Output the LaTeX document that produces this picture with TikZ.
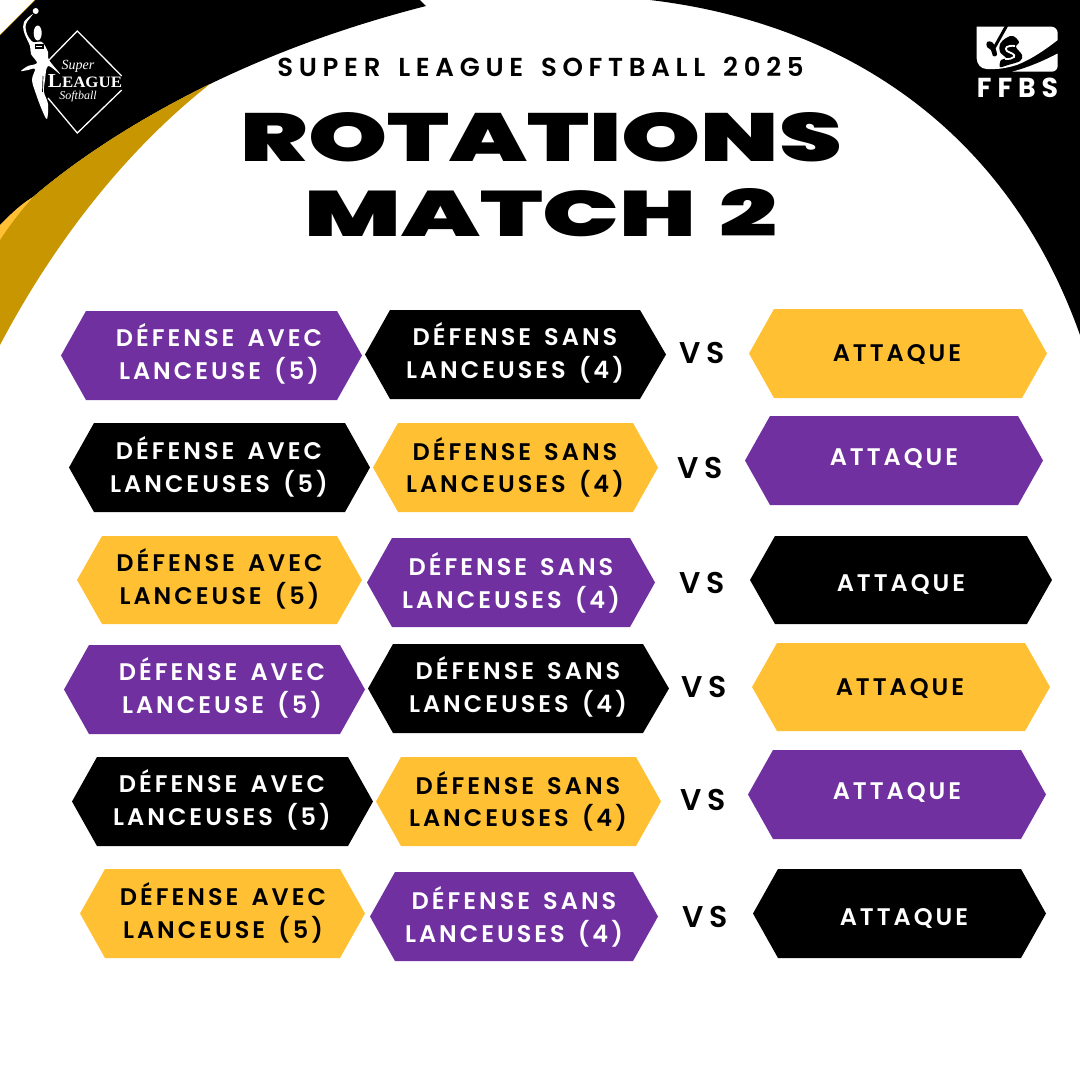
\documentclass[tikz,border=0pt]{standalone}
\usepackage{fontspec}
\usepackage{graphicx}
\setmainfont{Poppins}
\newfontfamily\popsemi[LetterSpace=12.5,WordSpace=1.5]{Poppins SemiBold}
\newfontfamily\popsub[LetterSpace=22,WordSpace=1.5]{Poppins SemiBold}
\newfontfamily\popvs[LetterSpace=21]{Poppins SemiBold}
\newfontfamily\popblack{Poppins Black}
\newfontfamily\logoserif{Liberation Serif}
\newfontfamily\ffbsfont[LetterSpace=22]{Poppins}
\definecolor{lpurple}{HTML}{7030A0}
\definecolor{lyellow}{HTML}{FFC133}
\definecolor{lgold}{HTML}{C89600}
\tikzset{
 lab/.style={inner sep=0pt,align=center,xshift=-1pt,font=\popsemi\fontsize{24}{32.5}\selectfont},
 onelab/.style={lab,yshift=-1.5pt},
 vslab/.style={inner sep=0pt,xshift=-1pt,font=\popvs\fontsize{30}{32}\selectfont,text=black},
 logoline/.style={white,line width=1.3pt},
}
% colour, left shoulder, right shoulder, right tip, top, bottom
\newcommand{\hexa}[6]{\fill[#1] (#2,#5) -- (#3,#5) -- (#4,#5/2+#6/2) -- (#3,#6) -- (#2,#6) -- (#2-25,#5/2+#6/2) -- cycle;}
\begin{document}
\begin{tikzpicture}[x=1pt,y=-1pt]
\useasboundingbox (0,0) rectangle (1080,1080);
\fill[white] (0,0) rectangle (1080,1080);
% corners
\fill[black] (35,0) -- (420,0) -- (426,6) .. controls (340,28) and (270,55) .. (210,84) .. controls (130,123) and (70,165) .. (33,197) .. controls (20,205) and (10,215) .. (0,225) -- (0,35) -- cycle;
\draw[lgold,line width=.4pt] (35,0) -- (0,35);
\fill[lyellow] (33,197) .. controls (20,205) and (10,215) .. (0,225) -- (0,240) -- cycle;
\fill[lgold] (210,84) .. controls (130,123) and (70,165) .. (33,197) .. controls (20,212) and (10,225) .. (0,240) -- (0,345) .. controls (50,250) and (120,155) .. (210,84) -- cycle;
\fill[black] (650,0) .. controls (820,20) and (1000,110) .. (1080,335) -- (1080,0) -- cycle;
% left logo
\draw[logoline] (47,62) -- (77.3,31) -- (121.7,76);
\draw[logoline] (121.7,90) -- (77.3,133) -- (48,98);
\fill[white] (35.7,11) circle (3);
\fill[white] plot[smooth cycle,tension=.55] coordinates {(33,14) (24,22) (24,32) (30,46) (31,54) (37,63) (28,66) (21,71) (28,70) (35,69) (32,80) (36,94) (42,110) (47,119) (48,104) (44,92) (45,80) (48,66) (60,74) (49,60) (48,52) (42,42) (33,42) (27,34) (26,24)};
\fill[white] (37.7,33) ellipse (4 and 7.5);
\fill[black] (34.5,44) rectangle (43.5,49);
\fill[white] (36,46) rectangle (42,47);
\draw[black,line width=.7pt] (43,76) -- (42.5,92);
\node[inner sep=0pt,text=white] (lg) at (85,81.5) {\resizebox{74pt}{13pt}{\logoserif\bfseries L\fontsize{8}{8}\selectfont EAGUE}};
\node[inner sep=0pt,text=white,font=\logoserif\itshape\fontsize{14}{14}\selectfont] (sp) at (78,66) {Super};
\node[inner sep=0pt,text=white,font=\logoserif\itshape\fontsize{12}{12}\selectfont] (sb) at (78,97) {Softball};
% FFBS logo
\fill[white] (976.7,26.7) -- (1051.7,26.7) .. controls (1055,26.7) and (1057.7,30) .. (1057.7,33) -- (1057.7,40) .. controls (1045,50) and (1030,60) .. (1016.7,65) .. controls (1010,67) and (1002,69) .. (995,69) -- (986.7,69) .. controls (981,69) and (976.7,64) .. (976.7,58.3) -- cycle;
\fill[white] (1057.7,53.5) -- (1057.7,66) .. controls (1057.7,69) and (1055,71.7) .. (1051.7,71.7) -- (1012,71.7) .. controls (1030,67) and (1045,60) .. (1057.7,53.5) -- cycle;
\draw[black,line width=3pt] (1007,25) -- (993,50);
\fill[black] plot[smooth cycle,tension=.6] coordinates {(987,42) (992,42) (995,47) (997,55) (993,56) (991,50) (987,47)};
\fill[black] plot[smooth cycle,tension=.6] coordinates {(1006,38) (1013,36) (1019,42) (1016,47) (1022,55) (1020,61) (1008,65) (1000,67) (1001,60) (1006,58) (1000,52) (1000,44)};
\draw[white,line width=1.8pt] (1015,46) .. controls (1007,45) and (1004,48) .. (1007,51) .. controls (1010,53) and (1016,54) .. (1014,57) .. controls (1012,59) and (1009,59) .. (1005,59);
\node[inner sep=0pt,text=white] (ff) at (1017.5,87.5) {\resizebox{81pt}{19.5pt}{\ffbsfont\bfseries FFBS}};
% titles
\node[inner sep=0pt,font=\popsub\fontsize{26}{28}\selectfont,text=black] (sub) at (540.5,66.7) {SUPER LEAGUE SOFTBALL 2025};
\node[inner sep=0pt] (t1) at (541.5,137) {\resizebox{601pt}{49pt}{\popblack ROTATIONS}};
\node[inner sep=0pt] (t2) at (541,213) {\resizebox{473pt}{48pt}{\popblack MATCH\hspace{.06em} 2}};
% row 1
\hexa{lpurple}{86}{337}{362}{311}{400}
\node[lab,text=white] (a1) at (220,354) {DÉFENSE AVEC\\LANCEUSE (5)};
\hexa{black}{390}{640}{666}{310}{399}
\node[lab,text=white] (b1) at (516,353) {DÉFENSE SANS\\LANCEUSES (4)};
\node[vslab] (v1) at (703,353) {VS};
\hexa{lyellow}{774}{1022}{1047}{309}{398}
\node[onelab,text=black] (c1) at (898,353) {ATTAQUE};
% row 2
\hexa{black}{94}{345}{370}{423}{512}
\node[lab,text=white] (a2) at (220,467) {DÉFENSE AVEC\\LANCEUSES (5)};
\hexa{lyellow}{398}{633}{658}{423}{512}
\node[lab,text=black] (b2) at (516,467.5) {DÉFENSE SANS\\LANCEUSES (4)};
\node[vslab] (v2) at (701,468) {VS};
\hexa{lpurple}{770}{1018}{1043}{416}{505}
\node[onelab,text=white] (c2) at (895,457) {ATTAQUE};
% row 3
\hexa{lyellow}{102}{337}{362}{536}{624}
\node[lab,text=black] (a3) at (220.5,579) {DÉFENSE AVEC\\LANCEUSE (5)};
\hexa{lpurple}{392}{630}{655}{538}{627}
\node[lab,text=white] (b3) at (512,583) {DÉFENSE SANS\\LANCEUSES (4)};
\node[vslab] (v3) at (703,583) {VS};
\hexa{black}{775}{1027}{1052}{536}{624}
\node[onelab,text=white] (c3) at (902,583) {ATTAQUE};
% row 4
\hexa{lpurple}{89}{340}{365}{645}{734}
\node[lab,text=white] (a4) at (223,688) {DÉFENSE AVEC\\LANCEUSE (5)};
\hexa{black}{393}{643}{669}{644}{733}
\node[lab,text=white] (b4) at (519,687) {DÉFENSE SANS\\LANCEUSES (4)};
\node[vslab] (v4) at (705,687) {VS};
\hexa{lyellow}{777}{1025}{1050}{643}{731}
\node[onelab,text=black] (c4) at (901,687) {ATTAQUE};
% row 5
\hexa{black}{97}{348}{373}{757}{846}
\node[lab,text=white] (a5) at (223,800) {DÉFENSE AVEC\\LANCEUSES (5)};
\hexa{lyellow}{401}{636}{661}{757}{846}
\node[lab,text=black] (b5) at (519,801.5) {DÉFENSE SANS\\LANCEUSES (4)};
\node[vslab] (v5) at (704,800) {VS};
\hexa{lpurple}{773}{1021}{1046}{750}{839}
\node[onelab,text=white] (c5) at (898,791) {ATTAQUE};
% row 6
\hexa{lyellow}{105}{340}{365}{869}{958}
\node[lab,text=black] (a6) at (224,913) {DÉFENSE AVEC\\LANCEUSE (5)};
\hexa{lpurple}{395}{633}{658}{872}{961}
\node[lab,text=white] (b6) at (515,917) {DÉFENSE SANS\\LANCEUSES (4)};
\node[vslab] (v6) at (706,917) {VS};
\hexa{black}{778}{1021}{1046}{869}{958}
\node[onelab,text=white] (c6) at (905,917) {ATTAQUE};
\end{tikzpicture}
\end{document}
